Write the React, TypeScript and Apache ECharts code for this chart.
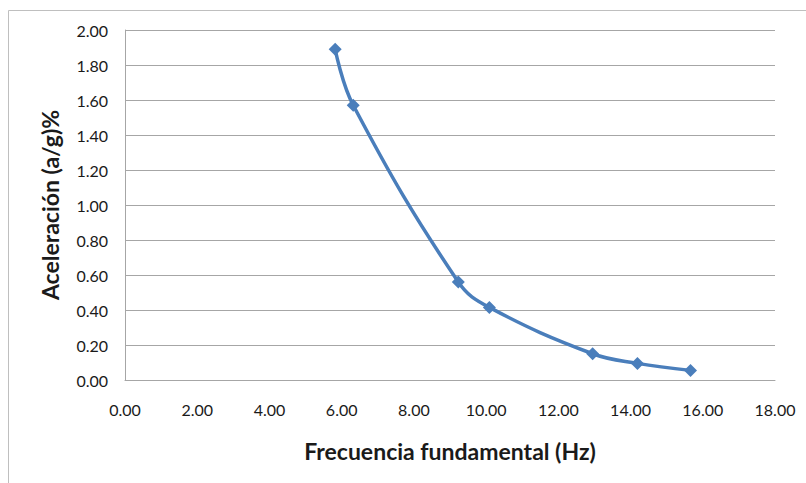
import React, { useEffect, useRef } from "react";
import * as echarts from "echarts";

const frequencyHz = [5.82, 6.32, 9.23, 10.09, 12.95, 14.19, 15.66];
const accelerationPct = [1.89, 1.57, 0.56, 0.415, 0.15, 0.095, 0.055];

const xTitle = "Frecuencia fundamental (Hz)";
const yTitle = "Aceleración (a/g)%";

export default function App() {
  const ref = useRef<HTMLDivElement>(null);
  useEffect(() => {
    document.body.style.margin = "0";
    const chart = echarts.init(ref.current!, null, { renderer: "svg" });
    const font = "Lato, 'Open Sans', sans-serif";
    chart.setOption({
      animation: false,
      backgroundColor: "#ffffff",
      graphic: [
        {
          type: "rect",
          shape: { x: 8.5, y: 10.5, width: 820, height: 500 },
          style: { fill: "none", stroke: "#bfbfbf", lineWidth: 1 },
          silent: true,
        },
      ],
      grid: { left: 125, top: 30, right: 31, bottom: 103 },
      xAxis: {
        type: "value",
        min: 0,
        max: 18,
        interval: 2,
        name: xTitle,
        nameLocation: "middle",
        nameGap: 59,
        nameTextStyle: { fontFamily: font, fontSize: 23, fontWeight: "bold", color: "#1a1a1a" },
        axisLine: { show: true, lineStyle: { color: "#a6a6a6", width: 1 } },
        axisTick: { show: false },
        splitLine: { show: false },
        axisLabel: {
          fontFamily: font,
          fontSize: 16,
          color: "#1a1a1a",
          margin: 21,
          formatter: (v: number) => v.toFixed(2),
        },
      },
      yAxis: {
        type: "value",
        min: 0,
        max: 2,
        interval: 0.2,
        name: yTitle,
        nameLocation: "middle",
        nameGap: 64,
        nameTextStyle: { fontFamily: font, fontSize: 23, fontWeight: "bold", color: "#1a1a1a" },
        axisLine: { show: true, lineStyle: { color: "#a6a6a6", width: 1 } },
        axisTick: { show: false },
        splitLine: { show: true, lineStyle: { color: "#a6a6a6", width: 1 } },
        axisLabel: {
          fontFamily: font,
          fontSize: 16,
          color: "#1a1a1a",
          margin: 17,
          formatter: (v: number) => v.toFixed(2),
        },
      },
      series: [
        {
          type: "line",
          data: frequencyHz.map((f, i) => [f, accelerationPct[i]]),
          smooth: 0.4,
          symbol: "diamond",
          symbolSize: 13,
          lineStyle: { color: "#4a7ebb", width: 3.5 },
          itemStyle: { color: "#4a7ebb" },
        },
      ],
    });
    return () => chart.dispose();
  }, []);
  return <div ref={ref} style={{ width: 806, height: 483 }} />;
}
